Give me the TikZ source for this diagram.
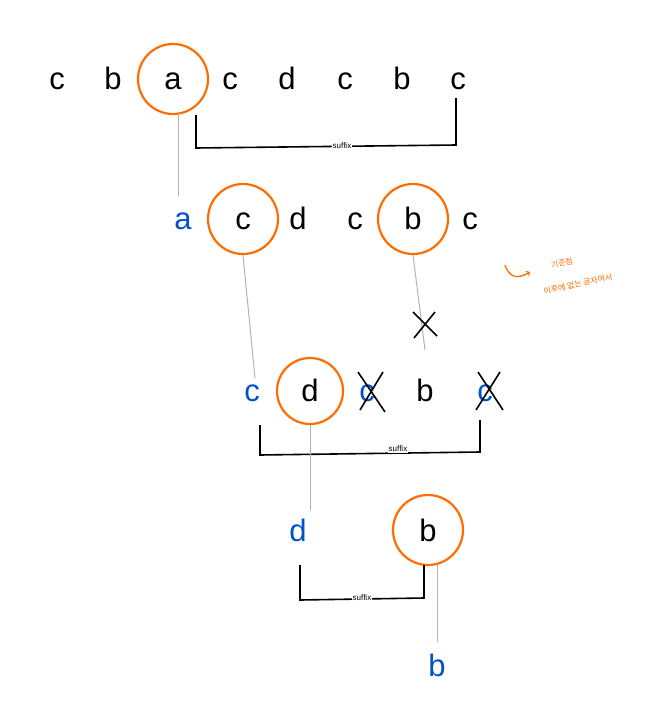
\documentclass[tikz,border=0pt]{standalone}
\usepackage{fontspec}
\setmainfont{Liberation Sans}
\newfontfamily\kr{Noto Sans CJK KR}
\begin{document}
\begin{tikzpicture}[x=1pt,y=-1pt,
  ch/.style={font=\fontsize{31}{32}\selectfont, inner sep=0pt, text height=22pt, text depth=0pt},
  bl/.style={ch, text=blue!60!cyan!80!black},
  ring/.style={draw=orange!85!red, line width=2.2pt, circle, minimum size=70pt, inner sep=0pt},
  gl/.style={draw=gray!60, line width=1pt},
  br/.style={draw=black, line width=1.6pt},
  sl/.style={font=\fontsize{8}{8}\selectfont, fill=white, inner sep=1pt},
  nt/.style={text=orange!85!red, font=\kr\fontsize{8}{9}\selectfont, rotate=12, inner sep=0pt},
  xx/.style={line width=1.6pt}]
\useasboundingbox (0,0) rectangle (668,701);
% row 1
\node[ch] (r1a) at (57,78) {c};
\node[ch] (r1b) at (113,78) {b};
\node[ch] (r1c) at (173,78) {a};
\node[ring] (o1) at (173,79) {};
\node[ch] (r1d) at (230,78) {c};
\node[ch] (r1e) at (287,78) {d};
\node[ch] (r1f) at (345,78) {c};
\node[ch] (r1g) at (402,78) {b};
\node[ch] (r1h) at (458,78) {c};
\coordinate (b1s) at (196,115); \coordinate (b1e) at (456,98);
\draw[br] (b1s) -- (196,148) -- (456,145) -- (b1e);
\node[sl] (s1) at (342,146) {suffix};
% row 2
\node[bl] (r2a) at (183,218) {a};
\node[ch] (r2b) at (243,218) {c};
\node[ring] (o2) at (243,219) {};
\node[ch] (r2c) at (298,218) {d};
\node[ch] (r2d) at (355,218) {c};
\node[ch] (r2e) at (413,218) {b};
\node[ring] (o3) at (413,219) {};
\node[ch] (r2f) at (470,218) {c};
\draw[gl] (178,113) -- (178,196);
% row 3
\node[bl] (r3a) at (252,390) {c};
\node[ch] (r3b) at (310,390) {d};
\node[ring, minimum size=66pt] (o4) at (310,391) {};
\node[bl] (r3c) at (367,390) {c};
\node[ch] (r3d) at (425,390) {b};
\node[bl] (r3e) at (485,390) {c};
\draw[xx] (358,372) -- (385,412) (383,372) -- (360,410);
\draw[xx] (478,372) -- (503,410) (500,372) -- (476,410);
\draw[gl] (o2.south) -- (255,378);
\draw[gl] (o3.south) -- (425,350);
\draw[xx] (413,312) -- (437,336) (435,312) -- (414,338);
\draw[br] (260,425) -- (260,455) -- (480,452) -- (480,420);
\node[sl] (s2) at (398,449) {suffix};
% row 4
\node[bl] (r4a) at (298,530) {d};
\node[ch] (r4b) at (428,530) {b};
\node[ring] (o5) at (428,530) {};
\draw[gl] (o4.south) -- (310,510);
\draw[br] (300,565) -- (300,600) -- (424,598) -- (424,565);
\node[sl] (s3) at (362,598) {suffix};
\node[bl] (r5) at (437,665) {b};
\draw[gl] (437,565) -- (437,642);
% note
\draw[orange!85!red, line width=1.3pt, ->] (505,265) .. controls (510,280) and (520,278) .. (530,272);
\node[nt] (note1) at (562,263) {기준점};
\node[nt] (note2) at (578,284) {이후에 없는 글자여서};
\end{tikzpicture}
\end{document}
